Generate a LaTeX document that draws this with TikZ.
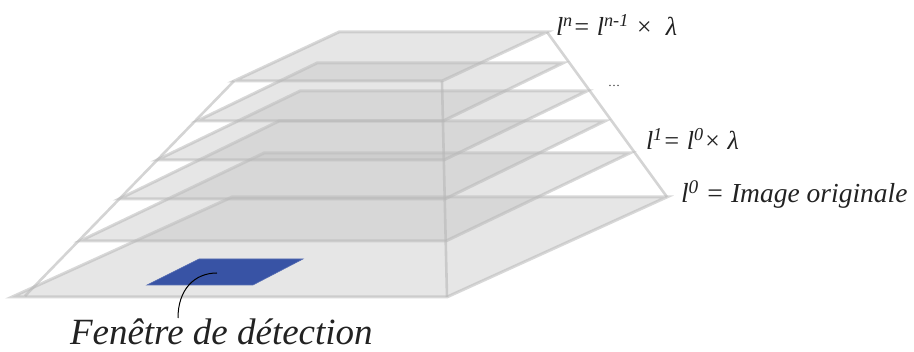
\documentclass[tikz,border=0pt]{standalone}
\usepackage{fontspec}
\setmainfont{Liberation Serif}
\definecolor{laygray}{HTML}{C0C0C0}
\definecolor{edgegray}{HTML}{B8B8B8}
\definecolor{winblue}{HTML}{3853A5}
\definecolor{txt}{HTML}{222222}
\tikzset{
  layer/.style={fill=laygray, fill opacity=0.4, draw=edgegray, draw opacity=0.55, line width=3pt, line join=miter},
  frameline/.style={draw=edgegray, draw opacity=0.6, line width=2.6pt},
  lab/.style={inner sep=0pt, outer sep=0pt, text=txt, font=\itshape\fontsize{26}{26}\selectfont, anchor=base west},
  win/.style={fill=winblue, draw=winblue!85!white, line width=0.6pt},
  conn/.style={draw=black, line width=1pt}
}
\begin{document}
\begin{tikzpicture}[x=1pt,y=-1pt]
\useasboundingbox (0,0) rectangle (914,352);
% layers from bottom to top: FL, FR, BR, BL
\draw[layer] (12,297) -- (447,297) -- (667,197) -- (232,197) -- cycle;
\draw[layer] (80,241) -- (446,241) -- (630,153) -- (264,153) -- cycle;
\draw[layer] (119,199) -- (445,199) -- (605,121) -- (279,121) -- cycle;
\draw[layer] (157,160) -- (444,160) -- (587,91) -- (300,91) -- cycle;
\draw[layer] (197,121) -- (443,121) -- (563,63) -- (317,63) -- cycle;
\draw[layer] (234,81) -- (442,81) -- (547,32) -- (339,32) -- cycle;
% frame lines
\draw[frameline] (25,296) -- (234,81);
\draw[frameline] (442,81) -- (447,297);
\draw[frameline] (547,32) -- (667,197);
% detection window
\draw[win] (147,285) -- (253,285) -- (303,259) -- (199,259) -- cycle;
\coordinate (winpt) at (217,273);
% labels
\node[lab, font=\itshape\fontsize{37}{37}\selectfont] (det) at (70,345) {Fenêtre de détection};
\coordinate (detTop) at ([xshift=108pt,yshift=27pt]det.base west);
\draw[conn] (detTop) .. controls ([yshift=28pt]detTop) and (194,273) .. (winpt);
\node[lab] (ln) at (556,36) {l\textsuperscript{n}= l\textsuperscript{n-1} × \ λ};
\node[inner sep=0pt, text=txt, font=\fontsize{12}{12}\selectfont] (dots) at (614,86) {…};
\node[lab] (l1) at (646,150) {l\textsuperscript{1}= l\textsuperscript{0}× λ};
\node[lab, font=\itshape\fontsize{27.5}{27.5}\selectfont] (l0) at (681,203) {l\textsuperscript{0} = Image originale};
\end{tikzpicture}
\end{document}
